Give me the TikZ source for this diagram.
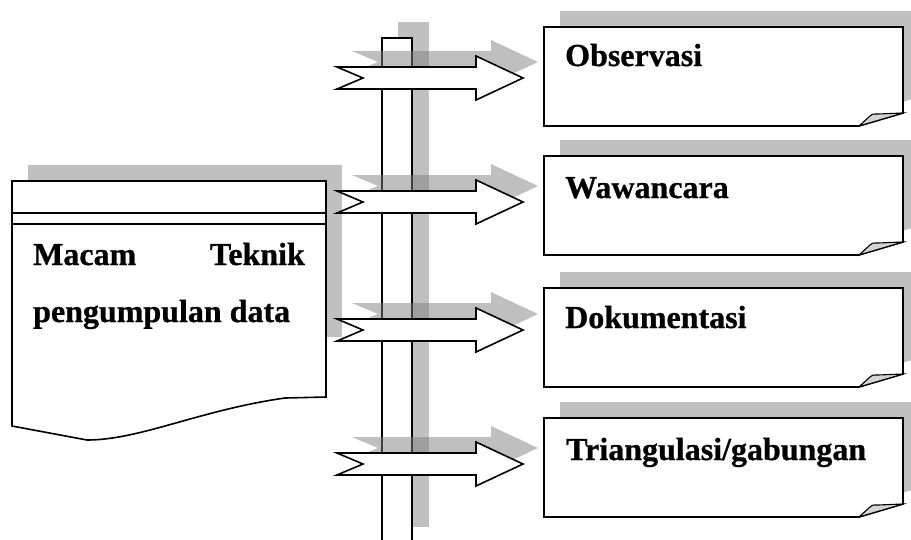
\documentclass[tikz,border=0pt]{standalone}
\usepackage{fontspec}
\setmainfont{Liberation Serif}[BoldFeatures={FakeBold=0.8}]
\definecolor{shadegray}{HTML}{C0C0C0}
\definecolor{flapgray}{HTML}{D4D4D4}
\begin{document}
\begin{tikzpicture}[x=1pt,y=-1pt,
  outline/.style={draw=black,line width=1.6pt,line join=miter},
  solidshade/.style={fill=shadegray},
  tintshade/.style={fill=black!50,fill opacity=0.5},
  lbl/.style={font=\bfseries\fontsize{32}{38}\selectfont,inner sep=0pt},
  pics/blockarrow/.style={code={
    \fill[tintshade,shift={(15,-16)}] (0,-11) -- (139,-11) -- (139,-22) -- (186,0)
      -- (139,22) -- (139,11) -- (0,11) -- (26,0) -- cycle;
    \filldraw[outline,fill=white] (0,-11) -- (139,-11) -- (139,-22) -- (186,0)
      -- (139,22) -- (139,11) -- (0,11) -- (26,0) -- cycle;
  }},
  pics/notebox/.style={code={
    \fill[solidshade,shift={(16,-16)}] (0,0) -- (359,0) -- (359,86) -- (315,99)
      -- (0,99) -- cycle;
    \filldraw[outline,fill=white] (0,0) -- (359,0) -- (359,86) -- (315,99)
      -- (0,99) -- cycle;
    \filldraw[outline,line width=1.1pt,fill=flapgray] (315,99) -- (326,89)
      .. controls (328,87) .. (334,87) -- (359,86) -- cycle;
  }}
]
\useasboundingbox (0,0) rectangle (911,539);
\clip (0,0) rectangle (911,539);

% document shape on the left
\fill[solidshade] (28,165) rectangle (342,337);
\filldraw[outline,fill=white] (12,181) -- (326,181) -- (326,397) -- (285,398)
  .. controls (200,410) and (140,440) .. (87,440) -- (12,426) -- cycle;
\draw[outline] (12,213) -- (326,213);
\draw[outline,line width=1.1pt] (12,224) -- (326,224);
\node[lbl,anchor=base west] (macam) at (33,265) {Macam};
\node[lbl,anchor=base east] (teknik) at (305,265) {Teknik};
\node[lbl,anchor=base west] (pengumpulan) at (33,322) {pengumpulan data};

% vertical bar
\fill[solidshade] (398,22) rectangle (429,527);
\filldraw[outline,fill=white] (382,38) rectangle (412,560);

% note boxes
\pic (box1) at (544,27) {notebox};
\pic (box2) at (544,156) {notebox};
\pic (box3) at (544,288) {notebox};
\pic (box4) at (544,418) {notebox};
\node[lbl,anchor=base west] (obs) at (565,66) {Observasi};
\node[lbl,anchor=base west] (waw) at (565,198) {Wawancara};
\node[lbl,anchor=base west] (dok) at (565,328) {Dokumentasi};
\node[lbl,anchor=base west] (tri) at (566,460) {Triangulasi/gabungan};

% block arrows across the bar
\pic (arr1) at (337,78) {blockarrow};
\pic (arr2) at (337,202) {blockarrow};
\pic (arr3) at (337,330) {blockarrow};
\pic (arr4) at (337,464) {blockarrow};
\end{tikzpicture}
\end{document}
